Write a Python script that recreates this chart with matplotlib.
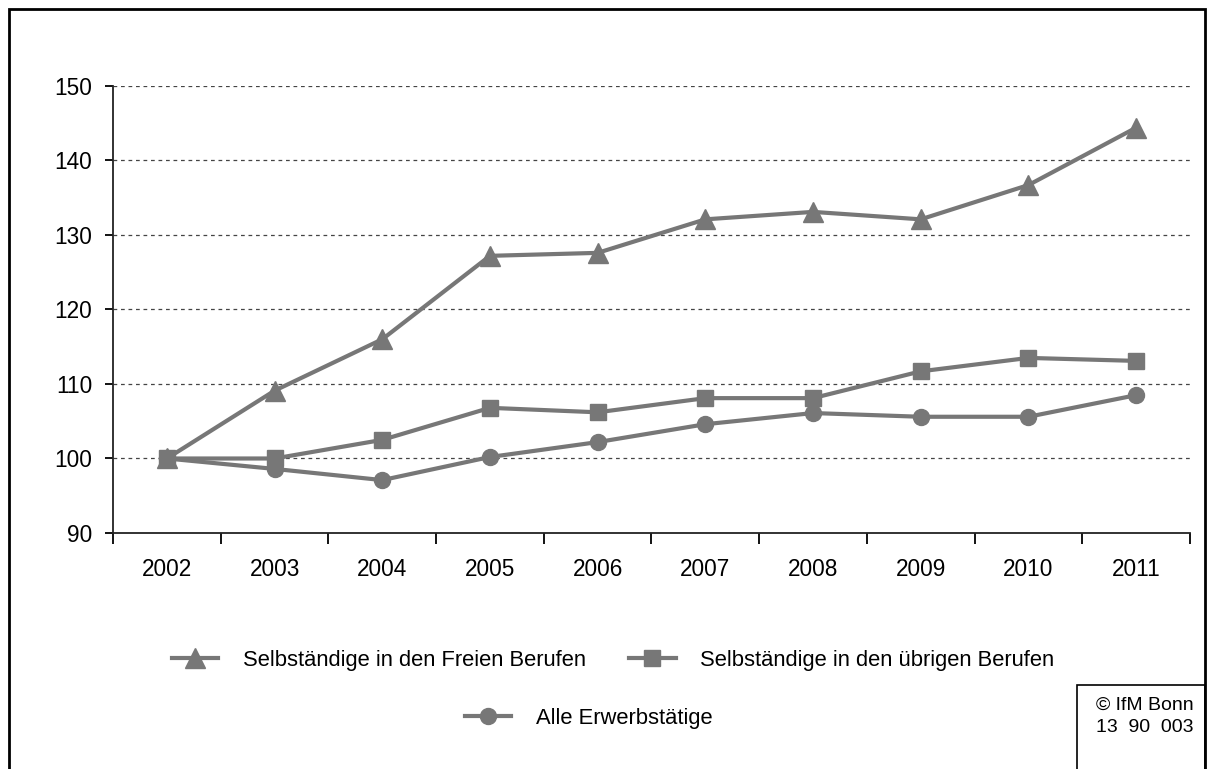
import matplotlib
matplotlib.use("Agg")
from matplotlib import pyplot as plt
from matplotlib.patches import Rectangle

years = ["2002", "2003", "2004", "2005", "2006", "2007", "2008", "2009", "2010", "2011"]
freie = [100, 109.1, 116.0, 127.2, 127.6, 132.1, 133.1, 132.1, 136.7, 144.4]
uebrige = [100, 100, 102.5, 106.8, 106.2, 108.1, 108.1, 111.7, 113.5, 113.1]
alle = [100, 98.6, 97.1, 100.2, 102.2, 104.6, 106.1, 105.6, 105.6, 108.5]

labels = ["Selbständige in den Freien Berufen",
          "Selbständige in den übrigen Berufen",
          "Alle Erwerbstätige"]

plt.rcParams['font.family'] = ['Liberation Sans', 'DejaVu Sans']
GREY = "#777777"
FS = 16.3
LFS = 15.8

fig = plt.figure(figsize=(12.14, 7.69), dpi=100)
ax = fig.add_axes([0.0931, 0.3069, 0.8871, 0.5813])

x = list(range(len(years)))
l1, = ax.plot(x, freie, color=GREY, lw=3, marker="^", ms=15, zorder=3)
l2, = ax.plot(x, uebrige, color=GREY, lw=3, marker="s", ms=12, zorder=3)
l3, = ax.plot(x, alle, color=GREY, lw=3, marker="o", ms=11.5, zorder=3)

ax.set_xlim(-0.5, len(years) - 0.5)
ax.set_ylim(90, 150)
ax.set_yticks(range(90, 151, 10))
ax.tick_params(axis="y", labelsize=FS, length=6, width=1.3, direction="out", pad=9)

# category labels centred, ticks between categories
ax.set_xticks([i - 0.5 for i in range(len(years) + 1)])
ax.set_xticklabels([])
ax.set_xticks(x, minor=True)
ax.set_xticklabels(years, minor=True, fontsize=FS)
ax.tick_params(axis="x", which="major", length=8, width=1.3, direction="out")
ax.tick_params(axis="x", which="minor", length=0, pad=18)

for v in range(100, 151, 10):
    ax.axhline(v, color="#444444", lw=0.9, ls=(0, (3, 3)), zorder=1)

for s in ["top", "right"]:
    ax.spines[s].set_visible(False)
for s in ["left", "bottom"]:
    ax.spines[s].set_linewidth(1.3)
    ax.spines[s].set_color("#222222")

leg1 = fig.legend([l1, l2], labels[:2], loc="center", bbox_to_anchor=(0.505, 0.141),
                  ncol=2, frameon=False, fontsize=LFS, handlelength=2.1,
                  handletextpad=1.1, columnspacing=2.0)
leg2 = fig.legend([l3], labels[2:], loc="center", bbox_to_anchor=(0.485, 0.066),
                  frameon=False, fontsize=LFS, handlelength=2.1, handletextpad=1.1)

# outer frame (bottom edge cut off)
fig.patches.append(Rectangle((9 / 1214, -0.05), 1196 / 1214, 1.05 - 9 / 769,
                             transform=fig.transFigure, fill=False, lw=2,
                             edgecolor="black"))
# copyright box
fig.patches.append(Rectangle((1077 / 1214, -0.05), 128 / 1214, 0.05 + 84 / 769,
                             transform=fig.transFigure, fill=False, lw=1.2,
                             edgecolor="black"))
fig.text(1096 / 1214, 1 - 705 / 769, "© IfM Bonn", fontsize=14, va="center")
fig.text(1096 / 1214, 1 - 727 / 769, "13  90  003", fontsize=14, va="center")

fig.savefig("out.png", dpi=100)
